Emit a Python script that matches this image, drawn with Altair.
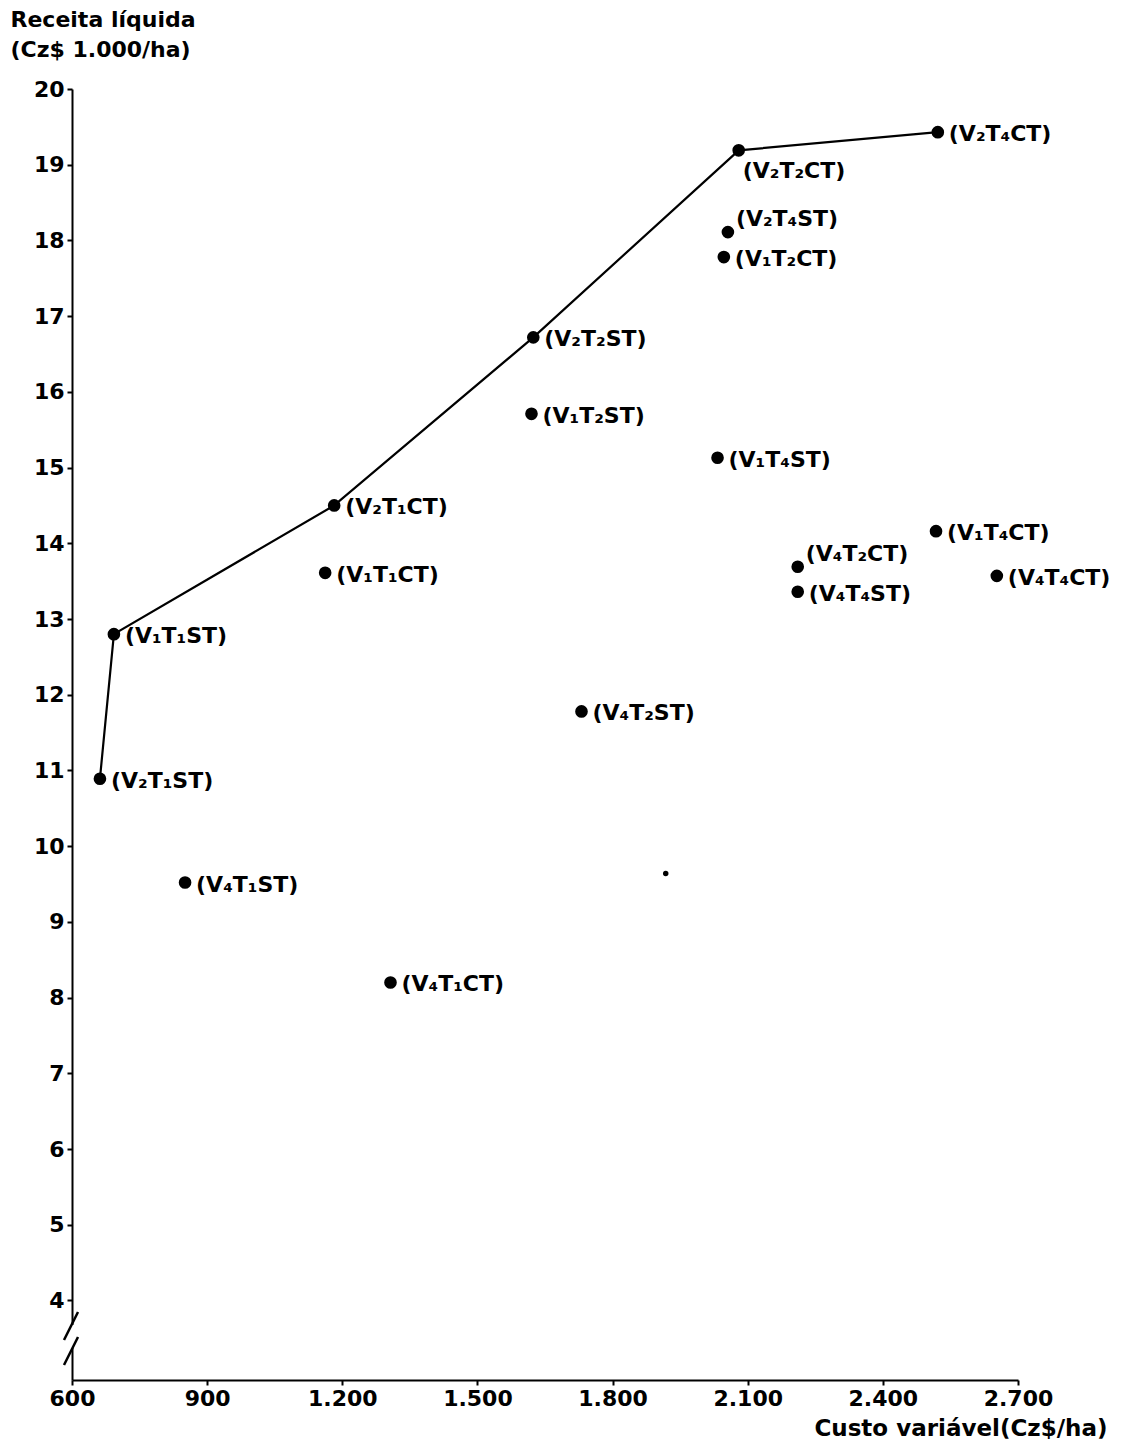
import altair as alt
import pandas as pd

# ---- data ----
labels = ["(V₂T₁ST)", "(V₁T₁ST)", "(V₂T₁CT)", "(V₁T₁CT)", "(V₂T₂ST)", "(V₁T₂ST)",
          "(V₄T₂ST)", "(V₄T₁ST)", "(V₄T₁CT)", "(V₂T₂CT)", "(V₂T₄CT)", "(V₂T₄ST)",
          "(V₁T₂CT)", "(V₁T₄ST)", "(V₄T₂CT)", "(V₄T₄ST)", "(V₁T₄CT)", "(V₄T₄CT)"]
cost = [662, 693, 1182, 1162, 1624, 1620, 1731, 851, 1307, 2080, 2522, 2056,
        2047, 2033, 2211, 2211, 2518, 2653]
revenue = [10.89, 12.80, 14.50, 13.61, 16.72, 15.71, 11.78, 9.52, 8.20, 19.19, 19.43, 18.11,
           17.78, 15.13, 13.69, 13.36, 14.16, 13.57]

# efficient frontier, in drawing order
frontier = ["(V₂T₁ST)", "(V₁T₁ST)", "(V₂T₁CT)", "(V₂T₂ST)", "(V₂T₂CT)", "(V₂T₄CT)"]

# unlabelled speck in the reference
speck_cost = [1918]
speck_revenue = [9.64]

x_ticks = [600, 900, 1200, 1500, 1800, 2100, 2400, 2700]
y_ticks = list(range(4, 21))

# label placement groups
labels_below = ["(V₂T₂CT)"]
labels_above = ["(V₂T₄ST)", "(V₄T₂CT)"]

FONT = "DejaVu Sans"

df = pd.DataFrame({"label": labels, "cost": cost, "revenue": revenue})
front_df = df.set_index("label").loc[frontier].reset_index()
front_df["order"] = list(range(len(frontier)))
speck_df = pd.DataFrame({"cost": speck_cost, "revenue": speck_revenue})

x_enc = alt.X(
    "cost:Q",
    scale=alt.Scale(domain=[600, 2700], nice=False, zero=False),
    axis=alt.Axis(
        values=x_ticks,
        labelExpr="replace(format(datum.value, ','), ',', '.')",
        labelFlush=False,
        title="Custo variável(Cz$/ha)",
        titleX=1035, titleY=55, titleAlign="right", titleBaseline="alphabetic",
        titleFontSize=23,
    ),
)
y_enc = alt.Y(
    "revenue:Q",
    scale=alt.Scale(domain=[2.95, 20], nice=False, zero=False),
    axis=alt.Axis(
        values=y_ticks,
        title=["Receita líquida", "(Cz$ 1.000/ha)"],
        titleAngle=0, titleX=-62, titleY=-80, titleAlign="left", titleBaseline="top",
        titleLineHeight=30, titleFontSize=22,
    ),
)

line = alt.Chart(front_df).mark_line(color="black", strokeWidth=2.2).encode(
    x=x_enc, y=y_enc, order="order:Q"
)
points = alt.Chart(df).mark_circle(color="black", opacity=1, size=160).encode(
    x=x_enc, y=y_enc
)
speck = alt.Chart(speck_df).mark_circle(color="black", opacity=1, size=30).encode(
    x=x_enc, y=y_enc
)

text_style = dict(font=FONT, fontSize=22, fontWeight="bold", color="black",
                  align="left", baseline="middle")

txt_right = alt.Chart(df).transform_filter(
    ~alt.FieldOneOfPredicate(field="label", oneOf=labels_below + labels_above)
).mark_text(dx=11, dy=2, **text_style).encode(x=x_enc, y=y_enc, text="label:N")

txt_below = alt.Chart(df).transform_filter(
    alt.FieldOneOfPredicate(field="label", oneOf=labels_below)
).mark_text(dx=4, dy=21, **text_style).encode(x=x_enc, y=y_enc, text="label:N")

txt_above = alt.Chart(df).transform_filter(
    alt.FieldOneOfPredicate(field="label", oneOf=labels_above)
).mark_text(dx=8, dy=-13, **text_style).encode(x=x_enc, y=y_enc, text="label:N")

# axis-break decoration on the y axis
one = pd.DataFrame({"k": [0]})
gap = alt.Chart(one).mark_rect(color="white").encode(
    x=alt.value(-4), x2=alt.value(4), y=alt.value(1236), y2=alt.value(1259)
)
slash1 = alt.Chart(one).mark_rule(color="black", strokeWidth=2.5).encode(
    x=alt.value(-8), x2=alt.value(6), y=alt.value(1251), y2=alt.value(1223)
)
slash2 = alt.Chart(one).mark_rule(color="black", strokeWidth=2.5).encode(
    x=alt.value(-8), x2=alt.value(6), y=alt.value(1276), y2=alt.value(1248)
)

chart = alt.layer(
    line, points, speck, txt_right, txt_below, txt_above, gap, slash1, slash2
).properties(
    width=946, height=1291,
    autosize=alt.AutoSizeParams(type="none"),
    padding={"left": 64, "top": 81, "right": 95, "bottom": 63},
).configure_view(stroke=None).configure_axis(
    grid=False,
    domainColor="black", domainWidth=2,
    tickColor="black", tickWidth=2, tickSize=5,
    labelColor="black", labelFont=FONT, labelFontSize=22, labelFontWeight="bold",
    labelPadding=3,
    titleColor="black", titleFont=FONT, titleFontWeight="bold",
)

chart.save("out.html", embed_options={"renderer": "svg", "actions": False})
